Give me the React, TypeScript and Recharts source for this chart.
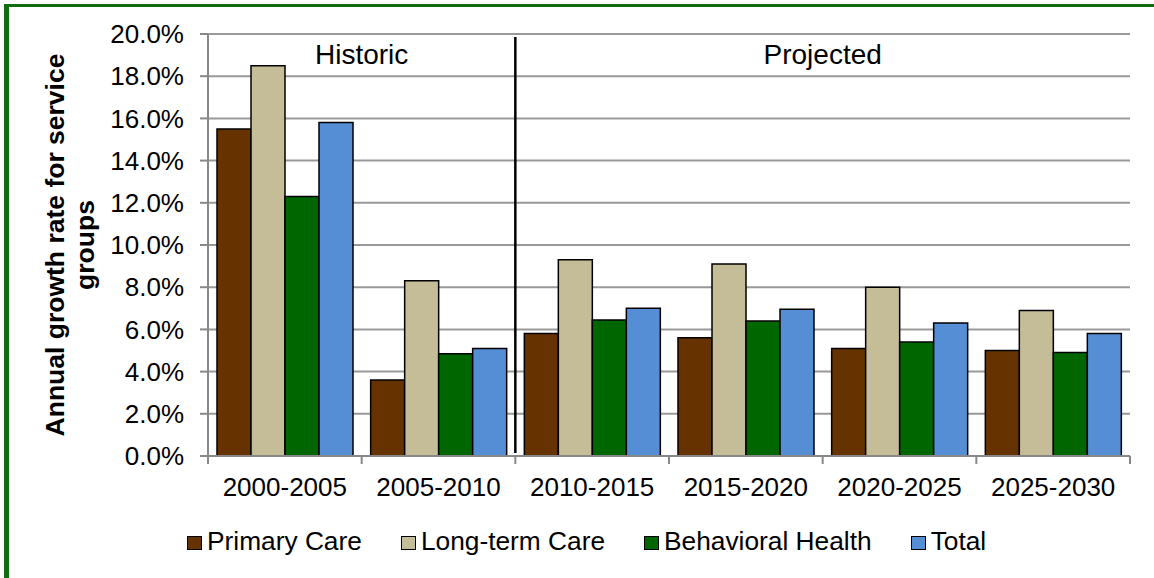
import React from 'react';
import { BarChart, Bar, XAxis, YAxis, CartesianGrid, Legend, ReferenceArea } from 'recharts';

const categories = ['2000-2005', '2005-2010', '2010-2015', '2015-2020', '2020-2025', '2025-2030'];
const primaryCare = [15.5, 3.6, 5.8, 5.6, 5.1, 5.0];
const longTermCare = [18.5, 8.3, 9.3, 9.1, 8.0, 6.9];
const behavioralHealth = [12.3, 4.85, 6.45, 6.4, 5.4, 4.9];
const totalGrowth = [15.8, 5.1, 7.0, 6.95, 6.3, 5.8];

const seriesKeys = ['primary', 'longTerm', 'behavioral', 'total'];
const seriesNames = ['Primary Care', 'Long-term Care', 'Behavioral Health', 'Total'];
const seriesColors = ['#663300', '#C4BD97', '#006600', '#558ED5'];
const seriesValues = [primaryCare, longTermCare, behavioralHealth, totalGrowth];

const yTicks = [0, 2, 4, 6, 8, 10, 12, 14, 16, 18, 20];
const periodLabels = ['Historic', 'Projected'];
const yAxisTitle = ['Annual growth rate for service', 'groups'];

const data = categories.map((c, i) => {
  const row: Record<string, any> = { category: c };
  seriesKeys.forEach((k, s) => {
    row[k] = seriesValues[s][i];
  });
  return row;
});

const FONT = '"Liberation Sans", Arial, Helvetica, sans-serif';
const W = 1154;
const H = 578;
const X_AXIS_H = 60;
const MARGIN = { top: 34, right: 24, bottom: 122 - X_AXIS_H, left: 0 };
const Y_AXIS_W = 208;
const PLOT_W = W - MARGIN.left - MARGIN.right - Y_AXIS_W;
const BAND = PLOT_W / categories.length;
const X_TICK_SIZE = 7;
const X_TICK_MARGIN = 15;
const GREEN = '#0c6e0c';

const CategoryTick = (props: any) => {
  const { x, y, payload, index } = props;
  const top = y - X_TICK_MARGIN - X_TICK_SIZE;
  const bottom = y - X_TICK_MARGIN + 1;
  return (
    <g>
      <line x1={x - BAND / 2} x2={x - BAND / 2} y1={top} y2={bottom} stroke="#888" strokeWidth={2} />
      {index === categories.length - 1 && (
        <line x1={x + BAND / 2} x2={x + BAND / 2} y1={top} y2={bottom} stroke="#888" strokeWidth={2} />
      )}
      <text x={x} y={y} dy="0.71em" textAnchor="middle" fontSize={26} fill="#000" fontFamily={FONT}>
        {payload.value}
      </text>
    </g>
  );
};

const makePeriodShape = (label: string, divider: boolean) => (props: any) => {
  const { x, y, width, height } = props;
  return (
    <g>
      {divider && (
        <line x1={x + width} x2={x + width} y1={y + 3} y2={y + height - 3} stroke="#000" strokeWidth={2.5} />
      )}
      <text x={x + width / 2} y={y + 30} textAnchor="middle" fontSize={28} fill="#000" fontFamily={FONT}>
        {label}
      </text>
    </g>
  );
};

const YTitle = (props: any) => {
  const vb = props.viewBox || { x: 0, y: MARGIN.top, width: Y_AXIS_W, height: 422 };
  const cy = vb.y + vb.height / 2;
  const xs = [64, 94];
  return (
    <g>
      {yAxisTitle.map((t, i) => (
        <text
          key={i}
          x={xs[i]}
          y={cy}
          transform={`rotate(-90, ${xs[i]}, ${cy})`}
          textAnchor="middle"
          fontSize={26.5}
          fontWeight="bold"
          fill="#000"
          fontFamily={FONT}
        >
          {t}
        </text>
      ))}
    </g>
  );
};

const LegendContent = () => (
  <div
    style={{
      display: 'flex',
      alignItems: 'flex-start',
      fontFamily: FONT,
      fontSize: 26.3,
      lineHeight: '30px',
      color: '#000',
      whiteSpace: 'nowrap',
    }}
  >
    {seriesNames.map((n, i) => (
      <div key={n} style={{ display: 'flex', alignItems: 'flex-start', marginRight: 39 }}>
        <div
          style={{
            boxSizing: 'border-box',
            width: 15,
            height: 14,
            marginTop: 10,
            background: seriesColors[i],
            border: '1.5px solid #000',
            marginRight: 5,
          }}
        />
        <span>{n}</span>
      </div>
    ))}
  </div>
);

export default function App() {
  return (
    <div style={{ position: 'fixed', left: 0, top: 0, width: W, height: H, overflow: 'hidden', background: '#fff' }}>
      <div
        style={{
          position: 'absolute',
          left: 4,
          top: 4,
          width: 1300,
          height: 800,
          borderLeft: `5px solid ${GREEN}`,
          borderTop: `3px solid ${GREEN}`,
        }}
      />
      <div style={{ position: 'absolute', left: 0, top: 0 }}>
        <BarChart width={W} height={H} data={data} margin={MARGIN} barGap={0} barCategoryGap={9}>
          <CartesianGrid horizontal vertical={false} stroke="#999" strokeWidth={2} />
          <XAxis
            dataKey="category"
            height={X_AXIS_H}
            tickLine={false}
            axisLine={{ stroke: '#888', strokeWidth: 2 }}
            tickSize={X_TICK_SIZE}
            tickMargin={X_TICK_MARGIN}
            tick={<CategoryTick />}
            interval={0}
          />
          <YAxis
            width={Y_AXIS_W}
            domain={[0, 20]}
            ticks={yTicks}
            interval={0}
            tickFormatter={(v: number) => `${v.toFixed(1)}%`}
            tick={{ fontSize: 26, fill: '#000', fontFamily: FONT }}
            tickLine={{ stroke: '#888', strokeWidth: 2 }}
            axisLine={{ stroke: '#888', strokeWidth: 2 }}
            tickSize={8}
            tickMargin={16}
            label={<YTitle />}
          />
          {seriesKeys.map((k, i) => (
            <Bar
              key={k}
              dataKey={k}
              name={seriesNames[i]}
              fill={seriesColors[i]}
              stroke="#000"
              strokeWidth={1.5}
              isAnimationActive={false}
            />
          ))}
          <ReferenceArea
            x1={categories[0]}
            x2={categories[1]}
            shape={makePeriodShape(periodLabels[0], true)}
            ifOverflow="visible"
          />
          <ReferenceArea
            x1={categories[2]}
            x2={categories[5]}
            shape={makePeriodShape(periodLabels[1], false)}
            ifOverflow="visible"
          />
          <Legend
            layout="horizontal"
            verticalAlign="middle"
            align="center"
            wrapperStyle={{ position: 'absolute', left: 187, top: 526, width: 940, height: 32 }}
            content={<LegendContent />}
          />
        </BarChart>
      </div>
    </div>
  );
}
